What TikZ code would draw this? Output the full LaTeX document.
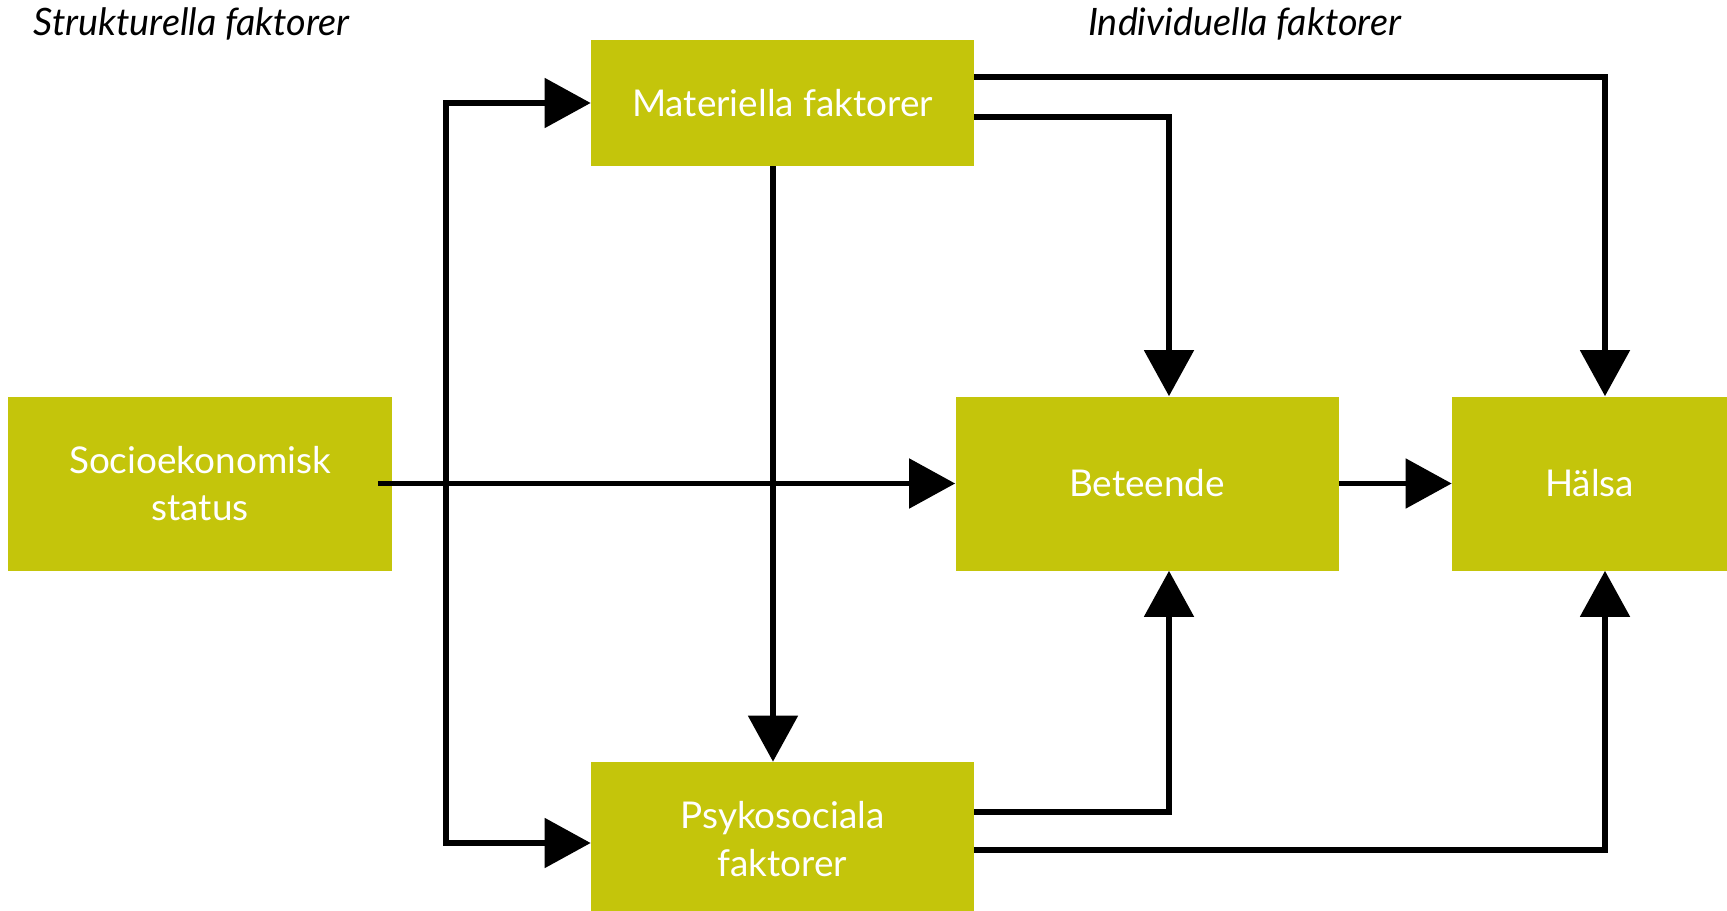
\documentclass[tikz,border=0pt]{standalone}
\usepackage{fontspec}
\setmainfont{Lato}
\usetikzlibrary{arrows.meta}
\definecolor{factorgreen}{RGB}{196,197,11}
\tikzset{
  factor/.style={fill=factorgreen, text=white, minimum width=7.66cm, minimum height=3.48cm,
    inner sep=0pt, align=center, font=\fontsize{21}{27}\selectfont},
  heading/.style={font=\itshape\fontsize{21.5}{26}\selectfont},
  link/.style={line width=3pt, -{Triangle[length=0.92cm,width=0.98cm]}}
}
\begin{document}
\begin{tikzpicture}
      \useasboundingbox (0,0) rectangle (34.54,18.2);
      \path
        (0.55,17.72) node[heading, anchor=west] (struct){Strukturella faktorer}
        (24.89,17.72) node[heading] (indiv){Individuella faktorer}
        (4.0,8.53) node[factor] (socio){Socioekonomisk\\status}
        (15.65,16.14) node[factor, minimum height=2.52cm] (mat){Materiella faktorer}
        (15.65,1.42) node[factor, minimum height=3.08cm] (psy){Psykosociala\\faktorer}
        (22.94,8.53) node[factor] (bet){Beteende}
        (31.79,8.53) node[factor, minimum width=5.5cm] (halsa){Hälsa};
      \coordinate (split) at (8.92,8.53);
      \begin{scope}[link]
        \draw ([xshift=-0.28cm]socio.east) to (bet.west);
        \draw (split) |- (mat.west);
        \draw (split) |- ([yshift=-0.08cm]psy.west);
        \draw ([xshift=-0.19cm]mat.south) to ([xshift=-0.19cm]psy.north);
        \draw ([yshift=0.52cm]mat.east) -| ([xshift=0.31cm]halsa.north);
        \draw ([yshift=-0.28cm]mat.east) -| ([xshift=0.44cm]bet.north);
        \draw ([yshift=0.54cm]psy.east) -| ([xshift=0.44cm]bet.south);
        \draw ([yshift=-0.22cm]psy.east) -| ([xshift=0.31cm]halsa.south);
        \draw (bet.east) to (halsa.west);
      \end{scope}
    \end{tikzpicture}
\end{document}
